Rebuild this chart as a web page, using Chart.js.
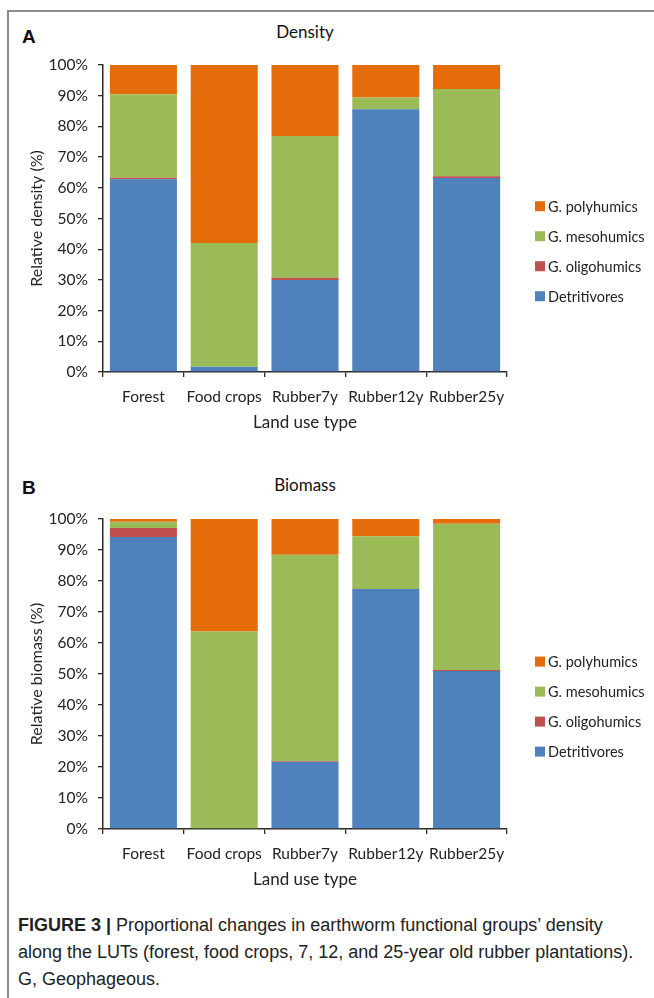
<!DOCTYPE html>
<html>
<head>
<meta charset="utf-8">
<script src="https://cdn.jsdelivr.net/npm/chart.js@4.4.0/dist/chart.umd.min.js"></script>
<style>
  body { margin: 0; background: #fff; width: 654px; height: 998px; position: relative; overflow: hidden; }
  #frame { position: absolute; left: 7px; top: 10px; width: 700px; height: 1000px; border-left: 2px solid #8c8c8c; border-top: 2px solid #8c8c8c; }
  .panel { position: absolute; left: 0; width: 654px; }
  .letter { position: absolute; left: 22px; font: bold 19px "Liberation Sans", Arial, sans-serif; color: #111; }
  .title { position: absolute; left: 305px; transform: translateX(-50%); font: 17px Lato, sans-serif; color: #111; }
  #caption { position: absolute; left: 18px; top: 912px; width: 630px; font: 18px "Liberation Sans Narrow", "Liberation Sans", sans-serif; line-height: 27px; color: #222; }
  #caption b { font-weight: bold; }
</style>
</head>
<body>
<div id="frame"></div>

<div class="letter" style="top:26px">A</div>
<div class="title" style="top:21px">Density</div>
<div class="panel" style="top:0px;height:440px"><canvas id="densityChart" width="654" height="440"></canvas></div>

<div class="letter" style="top:477px">B</div>
<div class="title" style="top:474px">Biomass</div>
<div class="panel" style="top:454px;height:443px"><canvas id="biomassChart" width="654" height="443"></canvas></div>

<div id="caption"><b>FIGURE 3 |</b> Proportional changes in earthworm functional groups’ density along the LUTs (forest, food crops, 7, 12, and 25-year old rubber plantations). G, Geophageous.</div>

<script>
// categorias y grupos
const landUse = ["Forest", "Food crops", "Rubber7y", "Rubber12y", "Rubber25y"];
const groupNames = ["Detritivores", "G. oligohumics", "G. mesohumics", "G. polyhumics"];
const groupColors = ["#4F81BD", "#C0504D", "#9BBB59", "#E46C0A"];

// densidad relativa (%)
const densityDetritivores = [62.8, 1.7, 30.0, 85.6, 63.2];
const densityOligohumics = [0.5, 0, 0.7, 0, 0.6];
const densityMesohumics = [27.2, 40.3, 46.2, 3.8, 28.4];
const densityPolyhumics = [9.5, 58.0, 23.1, 10.6, 7.8];

// biomasa relativa (%)
const biomassDetritivores = [94.2, 0, 21.7, 77.4, 51.0];
const biomassOligohumics = [2.9, 0, 0.2, 0, 0.3];
const biomassMesohumics = [2.0, 63.7, 66.6, 17.0, 47.2];
const biomassPolyhumics = [0.9, 36.3, 11.5, 5.6, 1.5];

const yTickStep = 10;
const yMax = 100;

const FONT = "Lato, sans-serif";
const AXIS = "#2b2b2b";

// leyenda propia a la derecha, orden invertido como en Excel
const sideLegend = {
  id: "sideLegend",
  afterDraw(chart) {
    const { ctx, chartArea } = chart;
    const sets = chart.data.datasets;
    const x = chartArea.right + 28;
    let y = chartArea.top + chartArea.height * 0.46;
    ctx.save();
    ctx.font = "14.5px " + FONT;
    ctx.textBaseline = "middle";
    for (let i = sets.length - 1; i >= 0; i--) {
      ctx.fillStyle = sets[i].backgroundColor;
      ctx.fillRect(x, y - 5, 10, 10);
      ctx.fillStyle = "#222";
      ctx.fillText(sets[i].label, x + 13, y + 1);
      y += 30;
    }
    ctx.restore();
  }
};

function renderStack(id, series, yTitle, plotBottom) {
  const datasets = series.map((values, i) => ({
    label: groupNames[i],
    data: values,
    backgroundColor: groupColors[i],
    borderWidth: 0,
    barPercentage: 0.83,
    categoryPercentage: 1
  }));

  const canvas = document.getElementById(id);
  const xAxisHeight = canvas.height - plotBottom;

  new Chart(canvas, {
    type: "bar",
    data: { labels: landUse, datasets },
    options: {
      responsive: false,
      animation: false,
      layout: { padding: { left: 20, top: 65, right: 147, bottom: 0 } },
      plugins: { legend: { display: false }, tooltip: { enabled: false } },
      scales: {
        x: {
          stacked: true,
          grid: { offset: true, drawOnChartArea: false, tickLength: 5, color: AXIS, lineWidth: 1.3 },
          border: { display: true, color: AXIS, width: 1.5 },
          ticks: { color: "#222", font: { family: FONT, size: 15.5 }, padding: 11, maxRotation: 0, autoSkip: false },
          title: { display: true, text: "Land use type", color: "#222", font: { family: FONT, size: 17 }, padding: { top: 4, bottom: 7 } },
          afterFit: (s) => { s.height = xAxisHeight; }
        },
        y: {
          stacked: true,
          min: 0,
          max: yMax,
          grid: { drawOnChartArea: false, tickLength: 5, color: AXIS, lineWidth: 1.3 },
          border: { display: true, color: AXIS, width: 1.5 },
          ticks: { stepSize: yTickStep, color: "#222", font: { family: FONT, size: 15.5 }, padding: 10, callback: (v) => v + "%" },
          title: { display: true, text: yTitle, color: "#222", font: { family: FONT, size: 16 }, padding: { top: 7, bottom: 0 } },
          afterFit: (s) => { s.width = 83; }
        }
      }
    },
    plugins: [sideLegend]
  });
}

renderStack("densityChart",
  [densityDetritivores, densityOligohumics, densityMesohumics, densityPolyhumics],
  "Relative density (%)", 372);

renderStack("biomassChart",
  [biomassDetritivores, biomassOligohumics, biomassMesohumics, biomassPolyhumics],
  "Relative biomass (%)", 375);
</script>
</body>
</html>
